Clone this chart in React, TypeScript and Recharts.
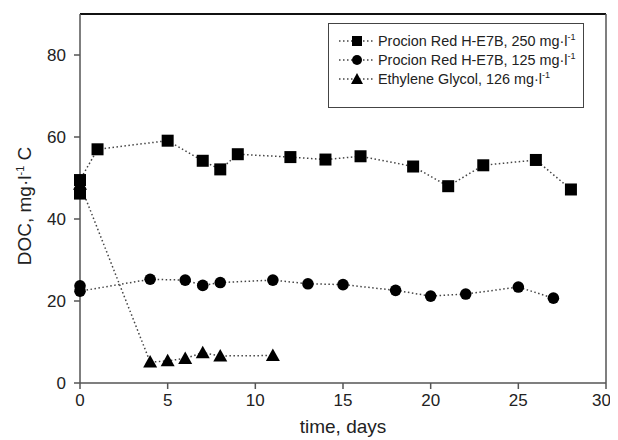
import React from 'react';
import { LineChart, Line, XAxis, YAxis, ReferenceLine } from 'recharts';

// DOC over time
const red250Days = [0, 0, 1, 5, 7, 8, 9, 12, 14, 16, 19, 21, 23, 26, 28];
const red250Doc = [46.2, 49.5, 57.0, 59.1, 54.2, 52.1, 55.8, 55.1, 54.5, 55.3, 52.8, 48.0, 53.1, 54.4, 47.2];

const red125Days = [0, 0, 4, 6, 7, 8, 11, 13, 15, 18, 20, 22, 25, 27];
const red125Doc = [23.7, 22.4, 25.3, 25.1, 23.8, 24.5, 25.1, 24.2, 24.0, 22.6, 21.2, 21.7, 23.4, 20.7];

const glycolDays = [0, 4, 5, 6, 7, 8, 11];
const glycolDoc = [48.5, 5.1, 5.4, 6.0, 7.4, 6.6, 6.7];

const xTicks = [0, 5, 10, 15, 20, 25, 30];
const yTicks = [0, 20, 40, 60, 80];

const seriesNames = ['Procion Red H-E7B, 250 mg·l', 'Procion Red H-E7B, 125 mg·l', 'Ethylene Glycol, 126 mg·l'];

const toPoints = (days: number[], doc: number[]) => days.map((d, i) => ({ day: d, doc: doc[i] }));

const FONT = '"Liberation Sans", Arial, sans-serif';
const AXIS = '#555';
const LINE = '#444';

const SquareDot = (props: any) => {
  const { cx, cy, index } = props;
  return <rect key={index} x={cx - 6} y={cy - 6} width={12} height={12} fill="#000" />;
};
const CircleDot = (props: any) => {
  const { cx, cy, index } = props;
  return <circle key={index} cx={cx} cy={cy} r={5.8} fill="#000" />;
};
const TriangleDot = (props: any) => {
  const { cx, cy, index } = props;
  return <path key={index} d={`M${cx},${cy - 7} L${cx + 7},${cy + 5.5} L${cx - 7},${cy + 5.5} Z`} fill="#000" />;
};

const markerIcon = (i: number) => {
  if (i === 0) return <rect x={19} y={3} width={10} height={10} fill="#000" />;
  if (i === 1) return <circle cx={24} cy={8} r={5} fill="#000" />;
  return <path d="M24,2 L30,13 L18,13 Z" fill="#000" />;
};

const LegendBox = () => (
  <div
    style={{
      position: 'absolute',
      left: 320,
      top: 15,
      border: '1.5px solid #444',
      background: '#fff',
      width: 256,
      height: 85,
      boxSizing: 'border-box',
      padding: '7px 0 0 4px',
      fontFamily: FONT,
      fontSize: 14.4,
      color: '#222',
      textAlign: 'left',
    }}
  >
    {seriesNames.map((name, i) => (
      <div key={name} style={{ display: 'flex', alignItems: 'center', height: 19, whiteSpace: 'nowrap' }}>
        <svg width={42} height={16} style={{ flexShrink: 0 }}>
          <line x1={6} y1={8} x2={42} y2={8} stroke={LINE} strokeWidth={1.5} strokeDasharray="1.5 2.5" />
          {markerIcon(i)}
        </svg>
        <span style={{ marginLeft: 3, flexShrink: 0 }}>
          {name}
          <sup style={{ fontSize: 9 }}>-1</sup>
        </span>
      </div>
    ))}
  </div>
);

const YLabel = () => (
  <text
    x={0}
    y={0}
    transform="translate(23,198) rotate(-90)"
    textAnchor="middle"
    fontFamily={FONT}
    fontSize={19}
    fill="#222"
  >
    DOC, mg·l
    <tspan dy={-7} fontSize={11}>-1</tspan>
    <tspan dy={7}> C</tspan>
  </text>
);

const App: React.FC = () => {
  return (
    <div style={{ position: 'relative', width: 602, height: 432 }}>
      <LineChart width={602} height={432} margin={{ top: 6, right: 4, left: 12, bottom: 7 }}>
        <XAxis
          dataKey="day"
          type="number"
          domain={[0, 30]}
          ticks={xTicks}
          allowDuplicatedCategory={false}
          stroke={AXIS}
          strokeWidth={1.5}
          tickSize={6}
          tickMargin={5}
          height={50}
          tick={{ fill: '#222', fontSize: 17, fontFamily: FONT }}
          label={{ value: 'time, days', position: 'insideBottom', offset: 0, fill: '#222', fontSize: 19, fontFamily: FONT }}
        />
        <YAxis
          type="number"
          domain={[0, 90]}
          ticks={yTicks}
          stroke={AXIS}
          strokeWidth={1.5}
          tickSize={6}
          tickMargin={8}
          width={60}
          tick={{ fill: '#222', fontSize: 17, fontFamily: FONT }}
          label={<YLabel />}
        />
        <ReferenceLine y={90} stroke="#111" strokeWidth={2} />
        <ReferenceLine x={30} stroke={AXIS} strokeWidth={1.5} />
        <Line
          data={toPoints(red250Days, red250Doc)}
          dataKey="doc"
          type="linear"
          stroke={LINE}
          strokeWidth={1.5}
          strokeDasharray="1.5 2.5"
          dot={SquareDot}
          isAnimationActive={false}
        />
        <Line
          data={toPoints(red125Days, red125Doc)}
          dataKey="doc"
          type="linear"
          stroke={LINE}
          strokeWidth={1.5}
          strokeDasharray="1.5 2.5"
          dot={CircleDot}
          isAnimationActive={false}
        />
        <Line
          data={toPoints(glycolDays, glycolDoc)}
          dataKey="doc"
          type="linear"
          stroke={LINE}
          strokeWidth={1.5}
          strokeDasharray="1.5 2.5"
          dot={TriangleDot}
          isAnimationActive={false}
        />
      </LineChart>
      <LegendBox />
    </div>
  );
};

export default App;
